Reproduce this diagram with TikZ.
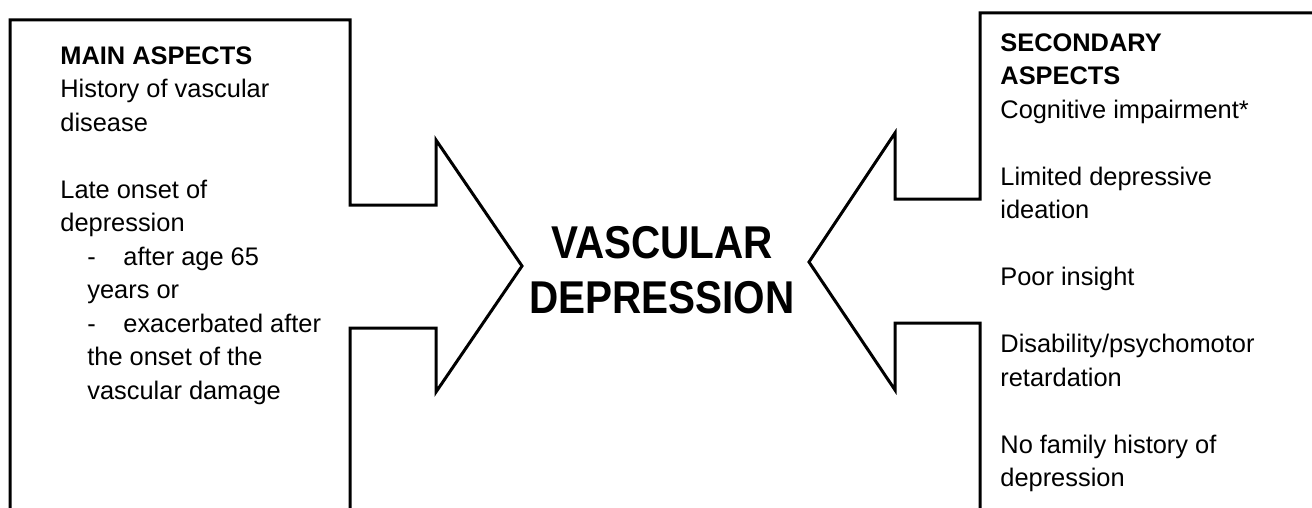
\documentclass[tikz,border=0pt]{standalone}
\usepackage{fontspec}
\setmainfont{Liberation Sans}
\newfontfamily\titlefont[FakeStretch=0.88]{Liberation Sans}
\begin{document}
\begin{tikzpicture}[x=0.5pt,y=-0.5pt,
  outline/.style={draw=black,line width=1.5pt,line join=miter},
  sidetext/.style={anchor=north west,inner sep=0pt,align=left,
    font=\fontsize{12.7pt}{16.75pt}\selectfont},
  centertext/.style={inner sep=0pt,align=center,
    font=\titlefont\fontsize{23pt}{27.5pt}\selectfont\bfseries}]
\useasboundingbox (0,0) rectangle (1312,508);
% left box with arrow
\draw[outline] (10,520) -- (10,20) -- (350,20) -- (350,205) -- (436,205) -- (436,140)
  -- (522,266) -- (436,392) -- (436,328) -- (350,328) -- (350,520);
% right box with arrow
\draw[outline] (1330,13) -- (980,13) -- (980,199) -- (895,199) -- (895,133)
  -- (809,262) -- (895,390) -- (895,323) -- (980,323) -- (980,520);
\node[sidetext] (main) at (60,46) {\textbf{MAIN ASPECTS}\\
History of vascular\\
disease\\
\strut\\
Late onset of\\
depression\\
\hspace*{13.5pt}\makebox[18pt][l]{-}after age 65\\
\hspace*{13.5pt}years or\\
\hspace*{13.5pt}\makebox[18pt][l]{-}exacerbated after\\
\hspace*{13.5pt}the onset of the\\
\hspace*{13.5pt}vascular damage};
\node[sidetext] (secondary) at (1000,33) {\textbf{SECONDARY}\\
\textbf{ASPECTS}\\
Cognitive impairment*\\
\strut\\
Limited depressive\\
ideation\\
\strut\\
Poor insight\\
\strut\\
Disability/psychomotor\\
retardation\\
\strut\\
No family history of\\
depression};
\node[centertext] (vd) at (662,270) {VASCULAR\\DEPRESSION};
\end{tikzpicture}
\end{document}
